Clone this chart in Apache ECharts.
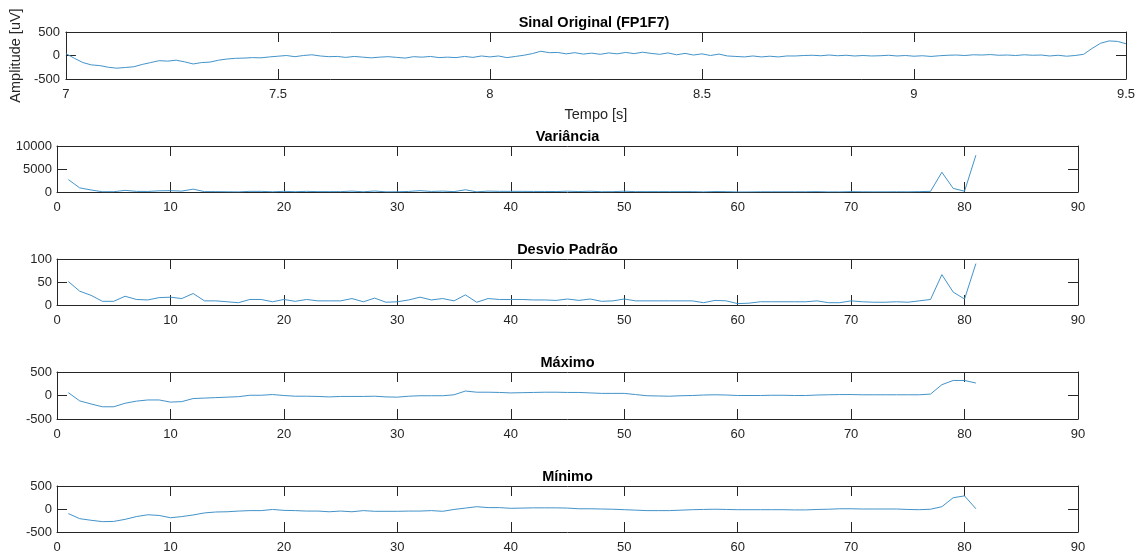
<!DOCTYPE html>
<html>
<head>
<meta charset="utf-8">
<script src="https://cdn.jsdelivr.net/npm/echarts@6/dist/echarts.min.js"></script>
<style>
  html, body { margin: 0; padding: 0; background: #ffffff; }
  #chart { width: 1141px; height: 554px; }
</style>
</head>
<body>
<div id="chart"></div>
<script>
// Raw EEG segment, channel FP1F7 (uV), sampled every 0.02 s from 7.0 s
const signalStart = 7.0;
const signalStep = 0.02;
const signalValues = [
  40, -60, -150, -200, -215, -250, -270, -255, -240, -190,
  -150, -110, -120, -100, -135, -180, -150, -140, -100, -75,
  -60, -55, -45, -50, -30, -15, 0, -25, 0, 15,
  -10, -25, -20, -40, -20, -35, -50, -35, -25, -40,
  -55, -25, -35, -20, -45, -35, -45, -20, -40, -10,
  -30, -10, -45, -20, 5, 40, 90, 60, 65, 35,
  60, 30, 50, 25, 55, 35, 65, 40, 70, 45,
  25, 55, 15, 45, 10, 35, 0, 30, -10, -20,
  -30, -10, -30, -15, -30, -10, -10, 0, 5, -5,
  10, -5, 5, -10, 0, -10, -5, 5, -10, 0,
  -15, -5, -20, -5, 5, 10, 0, 15, 10, 20,
  5, 10, 0, 15, 5, 10, -10, 5, -15, 0,
  25, 150, 260, 310, 300, 250
];

// Per-window features, windows numbered 1..81
const varianceValues = [
  2700, 900, 440, 64, 64, 360, 140, 120, 260, 290,
  200, 620, 80, 80, 50, 25, 140, 140, 50, 140,
  64, 140, 80, 80, 80, 200, 50, 220, 36, 50,
  120, 290, 120, 200, 80, 480, 36, 200, 140, 140,
  140, 120, 120, 100, 170, 100, 170, 64, 80, 170,
  80, 80, 80, 80, 80, 80, 25, 100, 80, 9,
  16, 50, 50, 50, 50, 50, 80, 25, 25, 80,
  50, 36, 36, 50, 36, 80, 140, 4300, 780, 170, 8000
];
const stdValues = [
  51, 30, 21, 8, 8, 19, 12, 11, 16, 17,
  14, 25, 9, 9, 7, 5, 12, 12, 7, 12,
  8, 12, 9, 9, 9, 14, 7, 15, 6, 7,
  11, 17, 11, 14, 9, 22, 6, 14, 12, 12,
  12, 11, 11, 10, 13, 10, 13, 8, 9, 13,
  9, 9, 9, 9, 9, 9, 5, 10, 9, 3,
  4, 7, 7, 7, 7, 7, 9, 5, 5, 9,
  7, 6, 6, 7, 6, 9, 12, 66, 28, 13, 90
];
const maxValues = [
  60, -115, -180, -240, -240, -165, -120, -95, -95, -140,
  -130, -65, -55, -45, -35, -25, 5, 5, 20, 0,
  -15, -15, -20, -30, -20, -20, -20, -15, -30, -35,
  -15, -5, -5, -5, 15, 95, 70, 70, 65, 55,
  60, 65, 70, 70, 65, 65, 55, 45, 45, 45,
  20, -5, -10, -15, -5, 0, 10, 15, 10, 0,
  0, 0, 5, 5, 0, 0, 10, 15, 20, 20,
  15, 15, 15, 15, 15, 15, 30, 230, 320, 320, 265
];
const minValues = [
  -100, -210, -245, -275, -270, -225, -165, -125, -140, -190,
  -165, -130, -85, -65, -60, -45, -35, -35, -10, -30,
  -35, -45, -45, -60, -45, -60, -35, -50, -50, -50,
  -45, -45, -35, -50, -10, 20, 50, 30, 30, 15,
  20, 25, 25, 25, 20, 5, 5, 0, -5, -15,
  -25, -35, -35, -35, -25, -15, -10, -5, -10, -15,
  -15, -15, -15, -15, -20, -20, -10, -5, 5, 5,
  0, 0, 0, 0, -10, -15, -5, 50, 245, 285, 5
];

// Panel titles and axis texts
const panelTitles = ['Sinal Original (FP1F7)', 'Variância', 'Desvio Padrão', 'Máximo', 'Mínimo'];
const signalXName = 'Tempo [s]';
const signalYName = 'Amplitude [uV]';

// Axis ranges: [min, max, interval]
const signalXRange = [7, 9.5, 0.5];
const windowXRange = [0, 90, 10];
const yRanges = [
  [-500, 500, 500],
  [0, 10000, 5000],
  [0, 100, 50],
  [-500, 500, 500],
  [-500, 500, 500]
];

const FONT = "'Liberation Sans', Arial, Helvetica, sans-serif";
const INK = '#262626';
const LINE = '#4393c9';

// Panel boxes in pixels
const panels = [
  { left: 62, right: 15, top: 32, height: 47 },
  { left: 57, right: 63, top: 146, height: 46 },
  { left: 57, right: 63, top: 259, height: 46 },
  { left: 57, right: 63, top: 372, height: 47 },
  { left: 57, right: 63, top: 486, height: 46 }
];

const grids = [], xAxes = [], yAxes = [], series = [], titles = [];

function plainNumber(v) { return String(v); }

panels.forEach((p, gi) => {
  grids.push({ left: p.left, right: p.right, top: p.top, height: p.height, containLabel: false });

  const xr = gi === 0 ? signalXRange : windowXRange;
  const yr = yRanges[gi];
  const baseX = {
    type: 'value', gridIndex: gi, min: xr[0], max: xr[1], interval: xr[2],
    axisLine: { show: true, onZero: false, lineStyle: { color: INK, width: 1 } },
    axisTick: { show: true, inside: true, length: 10, lineStyle: { color: INK, width: 1 } },
    splitLine: { show: false }
  };
  const baseY = {
    type: 'value', gridIndex: gi, min: yr[0], max: yr[1], interval: yr[2],
    axisLine: { show: true, onZero: false, lineStyle: { color: INK, width: 1 } },
    axisTick: { show: true, inside: true, length: 10, lineStyle: { color: INK, width: 1 } },
    splitLine: { show: false }
  };

  const bottomX = Object.assign({}, baseX, {
    position: 'bottom',
    axisLabel: {
      show: true, color: INK, fontFamily: FONT, fontSize: 13, margin: 9,
      formatter: plainNumber, showMinLabel: true, showMaxLabel: true, hideOverlap: false
    }
  });
  if (gi === 0) {
    Object.assign(bottomX, {
      name: signalXName, nameLocation: 'middle', nameGap: 28,
      nameTextStyle: { color: INK, fontFamily: FONT, fontSize: 14.5 }
    });
  }
  const topX = Object.assign({}, baseX, { position: 'top', axisLabel: { show: false } });

  const leftY = Object.assign({}, baseY, {
    position: 'left',
    axisLabel: {
      show: true, color: INK, fontFamily: FONT, fontSize: 13, margin: gi === 0 ? 6 : 5,
      formatter: plainNumber, showMinLabel: true, showMaxLabel: true
    }
  });
  if (gi === 0) {
    Object.assign(leftY, {
      name: signalYName, nameLocation: 'middle', nameGap: 33, nameRotate: 90,
      nameTextStyle: { color: INK, fontFamily: FONT, fontSize: 14.5 }
    });
  }
  const rightY = Object.assign({}, baseY, { position: 'right', axisLabel: { show: false } });

  const xi = xAxes.length, yi = yAxes.length;
  xAxes.push(bottomX, topX);
  yAxes.push(leftY, rightY);

  let data;
  if (gi === 0) {
    data = signalValues.map((v, i) => [+(signalStart + i * signalStep).toFixed(4), v]);
  } else {
    const src = [null, varianceValues, stdValues, maxValues, minValues][gi];
    data = src.map((v, i) => [i + 1, v]);
  }
  series.push({
    type: 'line', xAxisIndex: xi, yAxisIndex: yi, data: data,
    showSymbol: false, symbol: 'none', smooth: false,
    lineStyle: { color: LINE, width: 1 }, itemStyle: { color: LINE },
    silent: true, animation: false, z: 1
  });

  const cx = p.left + (1141 - p.left - p.right) / 2;
  titles.push({
    text: panelTitles[gi], left: cx, top: p.top - 17, textAlign: 'center', padding: 0,
    textStyle: { color: '#000000', fontFamily: FONT, fontSize: 14.5, fontWeight: 'bold', lineHeight: 16 }
  });
});

const chart = echarts.init(document.getElementById('chart'), null, { renderer: 'canvas' });
chart.setOption({
  backgroundColor: '#ffffff',
  animation: false,
  title: titles,
  grid: grids,
  xAxis: xAxes,
  yAxis: yAxes,
  series: series
});
</script>
</body>
</html>
